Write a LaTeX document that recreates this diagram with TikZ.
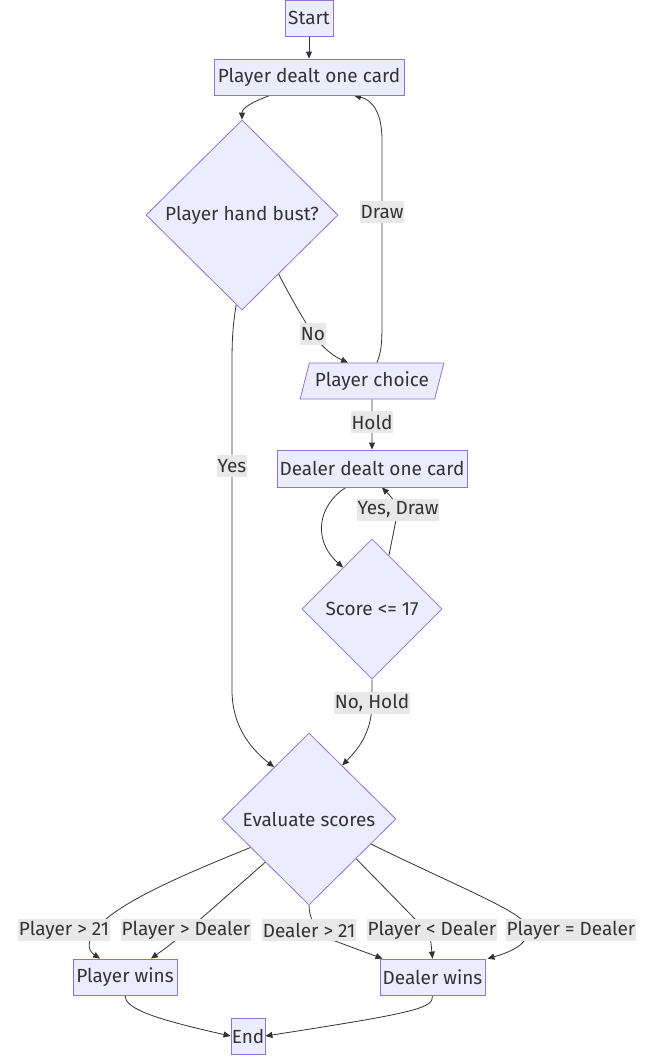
\documentclass[tikz,border=0pt]{standalone}
\usepackage{fontspec}
\setmainfont{Fira Sans}
\usetikzlibrary{shapes.geometric,arrows.meta,calc,backgrounds}
\definecolor{nfill}{HTML}{ECECFF}
\definecolor{nline}{HTML}{9370DB}
\definecolor{ink}{HTML}{333333}
\definecolor{lblbg}{HTML}{E8E8E8}
\begin{document}
\begin{tikzpicture}[x=1pt,y=-1pt,
  txt/.style={text=ink,font=\fontsize{19}{22}\selectfont},
  box/.style={txt,draw=nline,fill=nfill,line width=0.8pt,inner sep=0pt},
  dia/.style={box,diamond},
  para/.style={box,trapezium,trapezium left angle=66,trapezium right angle=114,trapezium stretches=true},
  lbl/.style={txt,fill=lblbg,inner sep=0.5pt,minimum height=22pt},
  edge/.style={draw=ink,line width=0.8pt,-{Triangle[length=7pt,width=6pt]}}]
\useasboundingbox (0,0) rectangle (651,1058);
% nodes
\node[box,minimum width=48pt,minimum height=36pt] (start) at (309,18) {Start};
\node[box,minimum width=190pt,minimum height=36pt] (pdc) at (309,77) {Player dealt one card};
\node[dia,minimum width=192pt,minimum height=190pt] (bust) at (242,215) {Player hand bust?};
\node[para,minimum width=144pt,minimum height=36pt] (pc) at (372,381) {Player choice};
\node[box,minimum width=190pt,minimum height=37pt] (ddc) at (372,468.5) {Dealer dealt one card};
\node[dia,minimum width=140pt,minimum height=140pt] (score) at (372,609) {Score <= 17};
\node[dia,minimum width=174pt,minimum height=172pt] (eval) at (309,819) {Evaluate scores};
\node[box,minimum width=104pt,minimum height=36pt] (pw) at (125,977) {Player wins};
\node[box,minimum width=105pt,minimum height=36pt] (dw) at (432.5,977) {Dealer wins};
\node[box,minimum width=34pt,minimum height=36pt] (end) at (248,1036) {End};
% edge labels
\node[lbl] (lDraw) at (382,212) {Draw};
\node[lbl] (lNo) at (313,334) {No};
\node[lbl] (lYes) at (232,466) {Yes};
\node[lbl] (lHold) at (372,422) {Hold};
\node[lbl] (lYD) at (398,510) {Yes, Draw};
\node[lbl] (lNH) at (372,703) {No, Hold};
\node[lbl] (l1) at (64,930) {Player > 21};
\node[lbl] (l2) at (186,930) {Player > Dealer};
\node[lbl] (l3) at (309,930) {Dealer > 21};
\node[lbl] (l4) at (432,930) {Player < Dealer};
\node[lbl] (l5) at (571,930) {Player = Dealer};
% border points
\coordinate (bustNo) at ($(bust.east)!0.62!(bust.south)$);
\coordinate (bustYes) at ($(bust.west)!0.94!(bust.south)$);
\coordinate (evalUL) at ($(eval.west)!0.6!(eval.north)$);
\coordinate (evalUR) at ($(eval.north)!0.38!(eval.east)$);
\coordinate (scoreUL) at ($(score.west)!0.59!(score.north)$);
\coordinate (scoreUR) at ($(score.north)!0.24!(score.east)$);
\coordinate (evalLL1) at ($(eval.west)!0.33!(eval.south)$);
\coordinate (evalLL2) at ($(eval.west)!0.5!(eval.south)$);
\coordinate (evalLR1) at ($(eval.east)!0.29!(eval.south)$);
\coordinate (evalLR2) at ($(eval.east)!0.46!(eval.south)$);
\begin{scope}[on background layer]
\draw[edge] (start) -- (pdc);
\draw[edge] ([xshift=-39pt]pdc.south) .. controls (252,102) and (242,108) .. (bust.north);
\draw[edge] (bustNo) .. controls (292,300) and (305,322) .. (lNo.center) .. controls (322,348) and (335,357) .. ([xshift=-24pt]pc.north);
\draw[edge] ([xshift=5pt]pc.north) .. controls (382,350) and (382,340) .. (382,320) -- (lDraw.center) -- (382,140) .. controls (382,112) and (372,100) .. ([xshift=45pt]pdc.south);
\draw[edge] (bustYes) .. controls (232,330) and (232,345) .. (232,370) -- (lYes.center) -- (232,690) .. controls (232,730) and (255,752) .. (evalUL);
\draw[edge] (pc.south) -- (lHold.center) -- (ddc.north);
\draw[edge] ([xshift=-26pt]ddc.south) .. controls (318,505) and (312,540) .. (scoreUL);
\draw[edge] (scoreUR) .. controls (393,535) .. (lYD.center) .. controls (394,500) .. ([xshift=10pt]ddc.south);
\draw[edge] (score.south) -- (lNH.center) .. controls (372,735) and (355,752) .. (evalUR);
\draw[edge] (evalLL1) .. controls (170,880) and (115,905) .. (95,930) .. controls (85,945) and (90,952) .. ([xshift=-25pt]pw.north);
\draw[edge] (evalLL2) -- (188,930) .. controls (170,945) .. ([xshift=26pt]pw.north);
\draw[edge] (eval.south) .. controls (310,925) and (320,935) .. (335,941) -- ([xshift=-50pt]dw.north);
\draw[edge] (evalLR2) -- (415,919) .. controls (430,932) .. (dw.north);
\draw[edge] (evalLR1) .. controls (440,878) and (505,905) .. (521,919) .. controls (535,935) and (525,948) .. ([xshift=55pt]dw.north);
\draw[edge] (pw.south) .. controls (125,1008) and (150,1018) .. (end.west);
\draw[edge] (dw.south) .. controls (433,1008) and (420,1012) .. (end.east);
\end{scope}
\end{tikzpicture}
\end{document}
